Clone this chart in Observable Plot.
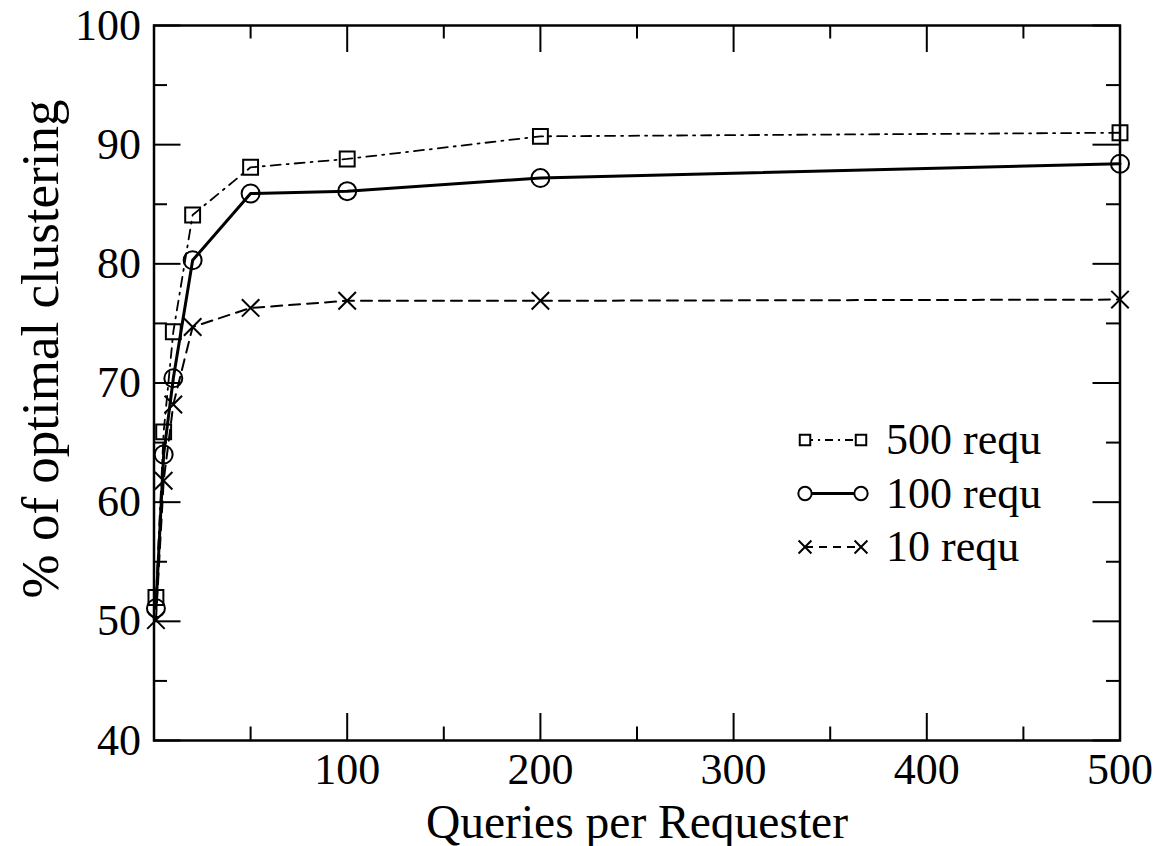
<!DOCTYPE html>
<html><head><meta charset="utf-8">
<script src="https://cdn.jsdelivr.net/npm/d3@7"></script>
<script src="https://cdn.jsdelivr.net/npm/@observablehq/plot@0.6"></script>
<style>body{margin:0;background:#fff}</style>
</head><body><div id="chart"></div>
<script>
// ---- data ----
const queries = [1, 5, 10, 20, 50, 100, 200, 500];
const requ500 = [52.0, 65.9, 74.3, 84.1, 88.1, 88.8, 90.7, 91.0];
const requ100 = [51.1, 64.0, 70.4, 80.3, 85.9, 86.1, 87.2, 88.4];
const requ10  = [50.1, 61.8, 68.2, 74.7, 76.3, 76.9, 76.9, 77.0];
const seriesNames = ["500 requ", "100 requ", "10 requ"];
const xTickLabels = [100, 200, 300, 400, 500];
const xMajor = [0, 100, 200, 300, 400, 500];
const xMinor = [50, 150, 250, 350, 450];
const yTickLabels = [40, 50, 60, 70, 80, 90, 100];
const yMinor = [45, 55, 65, 75, 85, 95];
const xTitle = "Queries per Requester";
const yTitle = "% of optimal clustering";

// ---- styles ----
const W = 1162, H = 846, mL = 153.5, mR = 42.5, mT = 25, mB = 106;
const pw = W - mL - mR, ph = H - mT - mB;
const FONT = "Liberation Serif, Times New Roman, serif";
const styles = [
  {values: requ500, symbol: "square", r: 8.4, dash: "10,6,2,6", sw: 1.8, lsym: d3.symbolSquare, lsize: 110},
  {values: requ100, symbol: "circle", r: 9, dash: null, sw: 3, lsym: d3.symbolCircle, lsize: 140},
  {values: requ10, symbol: "times", r: 8, dash: "11,7", sw: 2, lsym: d3.symbolTimes, lsize: 110}
];

const rows = [];
styles.forEach((s, k) => queries.forEach((q, i) => rows.push({series: seriesNames[k], x: q, y: s.values[i]})));

const MAJ = 27, MIN = 13.5;
const marks = [];
// ticks (inward, all four sides)
marks.push(Plot.tickX(xMajor, {x: d => d, insetTop: ph - MAJ, stroke: "black", strokeWidth: 2}));
marks.push(Plot.tickX(xMajor, {x: d => d, insetBottom: ph - MAJ, stroke: "black", strokeWidth: 2}));
marks.push(Plot.tickX(xMinor, {x: d => d, insetTop: ph - MIN, stroke: "black", strokeWidth: 2}));
marks.push(Plot.tickX(xMinor, {x: d => d, insetBottom: ph - MIN, stroke: "black", strokeWidth: 2}));
marks.push(Plot.tickY(yTickLabels, {y: d => d, insetRight: pw - MAJ, stroke: "black", strokeWidth: 2}));
marks.push(Plot.tickY(yTickLabels, {y: d => d, insetLeft: pw - MAJ, stroke: "black", strokeWidth: 2}));
marks.push(Plot.tickY(yMinor, {y: d => d, insetRight: pw - MIN, stroke: "black", strokeWidth: 2}));
marks.push(Plot.tickY(yMinor, {y: d => d, insetLeft: pw - MIN, stroke: "black", strokeWidth: 2}));

styles.forEach((s, k) => {
  const data = rows.filter(d => d.series === seriesNames[k]);
  marks.push(Plot.line(data, {x: "x", y: "y", stroke: "black", strokeWidth: s.sw, strokeDasharray: s.dash}));
  marks.push(Plot.dot(data, {x: "x", y: "y", symbol: () => s.symbol, r: s.r, stroke: "black", fill: "none", strokeWidth: 2}));
});

marks.push(Plot.frame({stroke: "black", strokeWidth: 2.5}));

// tick labels
marks.push(Plot.text(xTickLabels, {x: d => d, text: d => String(d), frameAnchor: "bottom", lineAnchor: "top", dy: 12, fontSize: 44, fill: "black"}));
marks.push(Plot.text(yTickLabels, {y: d => d, text: d => String(d), frameAnchor: "left", textAnchor: "end", dx: -13, fontSize: 44, fill: "black"}));
// axis titles
marks.push(Plot.text([xTitle], {text: d => d, frameAnchor: "bottom", lineAnchor: "top", dy: 64, fontSize: 47.5, fill: "black"}));
marks.push(Plot.text([yTitle], {text: d => d, frameAnchor: "left", textAnchor: "middle", rotate: -90, dx: -113, dy: -34, fontSize: 53, fill: "black"}));

const chart = Plot.plot({
  width: W, height: H,
  marginLeft: mL, marginRight: mR, marginTop: mT, marginBottom: mB,
  x: {domain: [0, 500], axis: null},
  y: {domain: [40, 100], axis: null},
  style: {fontFamily: FONT, background: "white", color: "black", overflow: "visible"},
  marks
});
document.getElementById("chart").appendChild(chart);

// legend (inside plot area)
const svg = d3.select(chart);
const lg = svg.append("g").attr("font-family", FONT).attr("font-size", 44).attr("text-anchor", "start");
const lx0 = 805, lx1 = 861, ltx = 886, ly0 = 440, lstep = 53.5;
styles.forEach((s, k) => {
  const y = ly0 + k * lstep;
  lg.append("line").attr("x1", lx0).attr("x2", lx1).attr("y1", y).attr("y2", y)
    .attr("stroke", "black").attr("stroke-width", s.sw)
    .attr("stroke-dasharray", s.dash ? (k === 0 ? "8,5,2,5" : "8,6") : null);
  [lx0, lx1].forEach(x => {
    lg.append("path").attr("d", d3.symbol(s.lsym, s.lsize)())
      .attr("transform", `translate(${x},${y})`)
      .attr("fill", "white").attr("stroke", "black").attr("stroke-width", 2);
  });
  lg.append("text").attr("x", ltx).attr("y", y).attr("dy", "0.32em").attr("text-anchor", "start").text(seriesNames[k]);
});
</script></body></html>
